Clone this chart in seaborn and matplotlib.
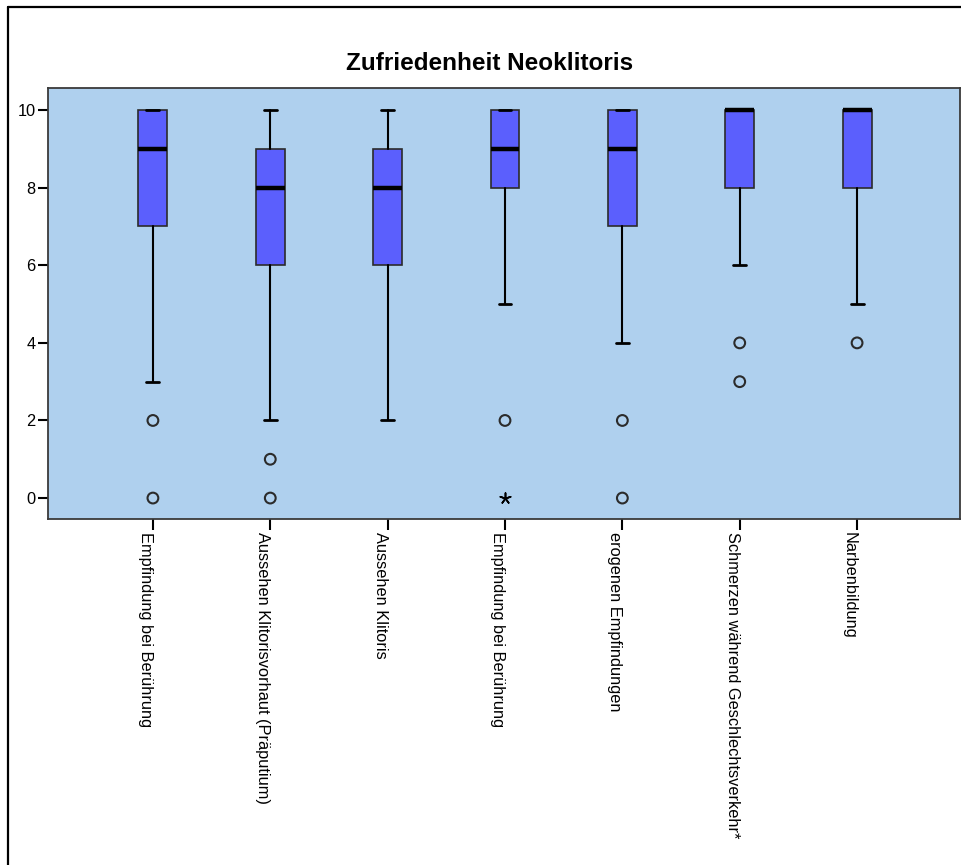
import numpy as np
import pandas as pd
import matplotlib
matplotlib.use("Agg")
import matplotlib.pyplot as plt
from matplotlib.lines import Line2D
import seaborn as sns

# ---------------- data ----------------
categories = [
    "Empfindung bei Berührung",
    "Aussehen Klitorisvorhaut (Präputium)",
    "Aussehen Klitoris",
    "Empfindung bei Berührung",
    "erogenen Empfindungen",
    "Schmerzen während Geschlechtsverkehr*",
    "Narbenbildung",
]
whisker_low = [3, 2, 2, 5, 4, 6, 5]
q1 = [7, 6, 6, 8, 7, 8, 8]
median = [9, 8, 8, 9, 9, 10, 10]
q3 = [10, 9, 9, 10, 10, 10, 10]
whisker_high = [10, 10, 10, 10, 10, 10, 10]
outliers = [[2, 0], [1, 0], [], [2], [2, 0], [4, 3], [4]]
extremes = [[], [], [], [0], [], [], []]
y_ticks = [0, 2, 4, 6, 8, 10]
title = "Zufriedenheit Neoklitoris"

# ---------------- style ----------------
sns.set_style("white")
plt.rcParams["font.family"] = ["Liberation Sans", "DejaVu Sans"]
plt.rcParams["text.color"] = "black"
plt.rcParams["xtick.color"] = "black"
plt.rcParams["ytick.color"] = "black"
plt.rcParams["xtick.labelcolor"] = "black"
plt.rcParams["ytick.labelcolor"] = "black"

BG = "#afd0ee"
BOX = "#5b5ffd"

fig = plt.figure(figsize=(9.62, 8.65), dpi=100)
ax = fig.add_axes([48 / 962, 1 - 519 / 865, (960 - 48) / 962, (519 - 88) / 865])
ax.set_facecolor(BG)

positions = np.arange(len(categories))
stats = []
for i in range(len(categories)):
    stats.append(dict(whislo=whisker_low[i], q1=q1[i], med=median[i], q3=q3[i],
                      whishi=whisker_high[i], fliers=[]))

ax.bxp(stats, positions=positions, widths=0.247, capwidths=0.11,
       patch_artist=True, showfliers=False, manage_ticks=False,
       boxprops=dict(facecolor=BOX, edgecolor="#2b2b2b", linewidth=1.2),
       medianprops=dict(color="black", linewidth=3.2, solid_capstyle="butt"),
       whiskerprops=dict(color="black", linewidth=1.5),
       capprops=dict(color="black", linewidth=2.0))

# outliers (circles) and extremes (asterisks) through seaborn
out_x, out_y = [], []
for i, vals in enumerate(outliers):
    for v in vals:
        out_x.append(positions[i])
        out_y.append(v)
ext_x, ext_y = [], []
for i, vals in enumerate(extremes):
    for v in vals:
        ext_x.append(positions[i])
        ext_y.append(v)
df_out = pd.DataFrame({"x": out_x, "y": out_y})
df_ext = pd.DataFrame({"x": ext_x, "y": ext_y})
sns.scatterplot(data=df_out, x="x", y="y", ax=ax, marker="o", s=60,
                facecolor="none", edgecolor="#2b2b2b", linewidth=1.5,
                color="#2b2b2b", zorder=5, legend=False)
sns.scatterplot(data=df_ext, x="x", y="y", ax=ax, marker=(5, 2, 0), s=60,
                edgecolor="black", linewidth=1.2, color="black",
                zorder=5, legend=False)

# axes
ax.set_xlim(-0.894, 6.877)
ax.set_ylim(-0.54, 10.57)
ax.set_yticks(y_ticks)
ax.set_yticklabels([str(t) for t in y_ticks], fontsize=11.8, color="black")
ax.set_xticks(positions)
ax.set_xticklabels(categories, rotation=270, ha="right", va="top",
                   fontsize=11.8, color="black")
ax.set_xlabel("")
ax.set_ylabel("")
ax.tick_params(axis="x", bottom=True, length=8, width=1.5, pad=1, color="black")
ax.tick_params(axis="y", left=True, length=7, width=1.5, pad=2, color="black")
for s in ax.spines.values():
    s.set_visible(True)
    s.set_color("#3a3a3a")
    s.set_linewidth(1.3)
ax.grid(False)

fig.text(490 / 962, 1 - 63 / 865, title, ha="center", va="center",
         fontsize=17.5, fontweight="bold", color="black")

# outer chart frame
fig.add_artist(Line2D([8 / 962, 8 / 962], [0, 1 - 7 / 865],
                      transform=fig.transFigure, color="black", lw=1.6))
fig.add_artist(Line2D([8 / 962, 1], [1 - 7 / 865, 1 - 7 / 865],
                      transform=fig.transFigure, color="black", lw=1.6))

fig.savefig("out.png", dpi=100)
